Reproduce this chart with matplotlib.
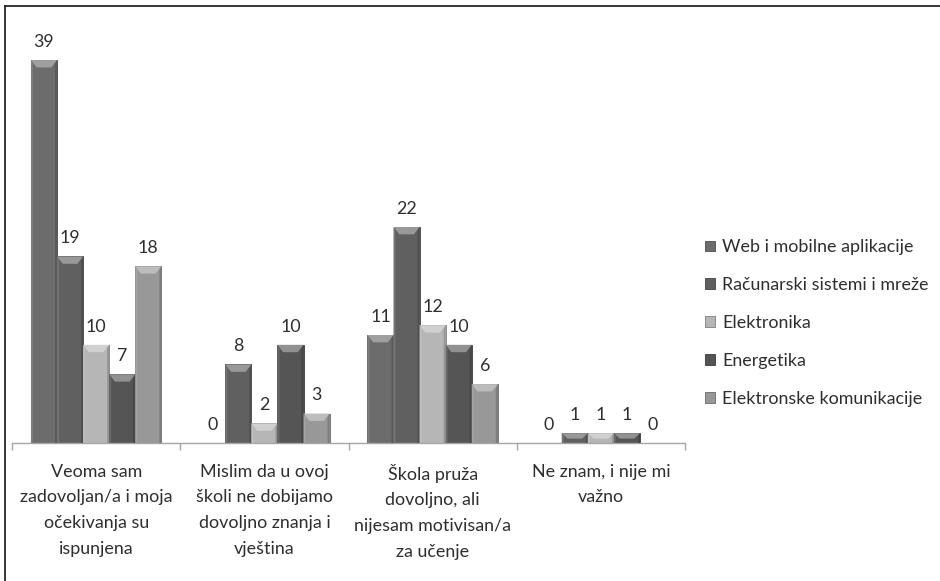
import numpy as np
import matplotlib
matplotlib.use("Agg")
import matplotlib.pyplot as plt
from matplotlib.patches import Polygon, Patch
from matplotlib.lines import Line2D
from matplotlib.colors import to_rgb

plt.rcParams['font.family'] = ['Lato', 'DejaVu Sans']

# survey answers, grouped by answer
categories = [
    "Veoma sam\nzadovoljan/a i moja\nočekivanja su\nispunjena",
    "Mislim da u ovoj\nškoli ne dobijamo\ndovoljno znanja i\nvještina",
    "Škola pruža\ndovoljno, ali\nnijesam motivisan/a\nza učenje",
    "Ne znam, i nije mi\nvažno",
]
series_names = [
    "Web i mobilne aplikacije",
    "Računarski sistemi i mreže",
    "Elektronika",
    "Energetika",
    "Elektronske komunikacije",
]
web = [39, 0, 11, 0]
racunarski = [19, 8, 22, 1]
elektronika = [10, 2, 12, 1]
energetika = [7, 10, 10, 1]
komunikacije = [18, 3, 6, 0]
series_values = [web, racunarski, elektronika, energetika, komunikacije]
series_colors = ['#6c6c6c', '#606060', '#b6b6b6', '#555555', '#989898']

TEXT = '#2e2e2e'


def shade(color, amount):
    c = np.array(to_rgb(color))
    if amount > 0:
        c = c + (1 - c) * amount
    else:
        c = c * (1 + amount)
    return tuple(np.clip(c, 0, 1))


def add_bevel(ax, rect, color):
    # light slanted cap on top plus darker side edges
    x0, w, h = rect.get_x(), rect.get_width(), rect.get_height()
    if h <= 0:
        return
    dy = min(0.75, h * 0.55)
    dx = w * 0.22
    ax.add_patch(Polygon([(x0, h), (x0 + w, h), (x0 + w - dx, h - dy), (x0 + dx, h - dy)],
                         closed=True, facecolor=shade(color, 0.35), edgecolor='none', zorder=3))
    ax.add_patch(Polygon([(x0, h), (x0 + dx * 0.35, h - dy * 0.5), (x0 + dx * 0.35, 0), (x0, 0)],
                         closed=True, facecolor=shade(color, 0.12), edgecolor='none', zorder=3))
    ax.add_patch(Polygon([(x0 + w, h), (x0 + w - dx * 0.35, h - dy * 0.5), (x0 + w - dx * 0.35, 0), (x0 + w, 0)],
                         closed=True, facecolor=shade(color, -0.18), edgecolor='none', zorder=3))


fig = plt.figure(figsize=(9.4, 5.81), dpi=100)
ax = fig.add_axes([0.0128, 0.2375, 0.7159, 0.7267])

x = np.arange(len(categories))
width = 0.155
n = len(series_values)

for i, (vals, color) in enumerate(zip(series_values, series_colors)):
    pos = x + (i - (n - 1) / 2) * width
    bars = ax.bar(pos, vals, width, color=color, edgecolor=shade(color, -0.3),
                  linewidth=0.6, zorder=2)
    for rect, v in zip(bars, vals):
        add_bevel(ax, rect, color)
        ax.annotate(str(v), (rect.get_x() + rect.get_width() / 2, v),
                    xytext=(0, 9.5), textcoords='offset points',
                    ha='center', va='baseline', fontsize=12.8, color=TEXT)

ax.set_xlim(-0.5, len(categories) - 0.5)
ax.set_ylim(0, 43)
ax.set_yticks([])
for side in ['top', 'right', 'left']:
    ax.spines[side].set_visible(False)
ax.spines['bottom'].set_color('#a6a6a6')
ax.spines['bottom'].set_linewidth(1.0)

ax.set_xticks(x)
ax.set_xticklabels(categories, fontsize=12.9, color=TEXT, linespacing=1.74)
ax.tick_params(axis='x', which='major', length=0, pad=15)
ax.set_xticks(np.arange(-0.5, len(categories)), minor=True)
ax.tick_params(axis='x', which='minor', length=5, color='#a6a6a6', width=1.0)

handles = [Patch(facecolor=c, edgecolor=shade(c, -0.3), linewidth=0.6) for c in series_colors]
fig.legend(handles, series_names, loc='center left', bbox_to_anchor=(0.7405, 0.444),
           frameon=False, fontsize=12.9, borderpad=0, handlelength=0.55, handleheight=0.55,
           handletextpad=0.42, labelspacing=1.22, labelcolor=TEXT)

# outer frame (left and top edges)
fig.add_artist(Line2D([0.0048, 0.0048], [0.0, 0.99], transform=fig.transFigure,
                      color='#262626', linewidth=1.3))
fig.add_artist(Line2D([0.0048, 1.0], [0.99, 0.99], transform=fig.transFigure,
                      color='#262626', linewidth=1.3))

fig.savefig("out.png", dpi=100, facecolor='white')
